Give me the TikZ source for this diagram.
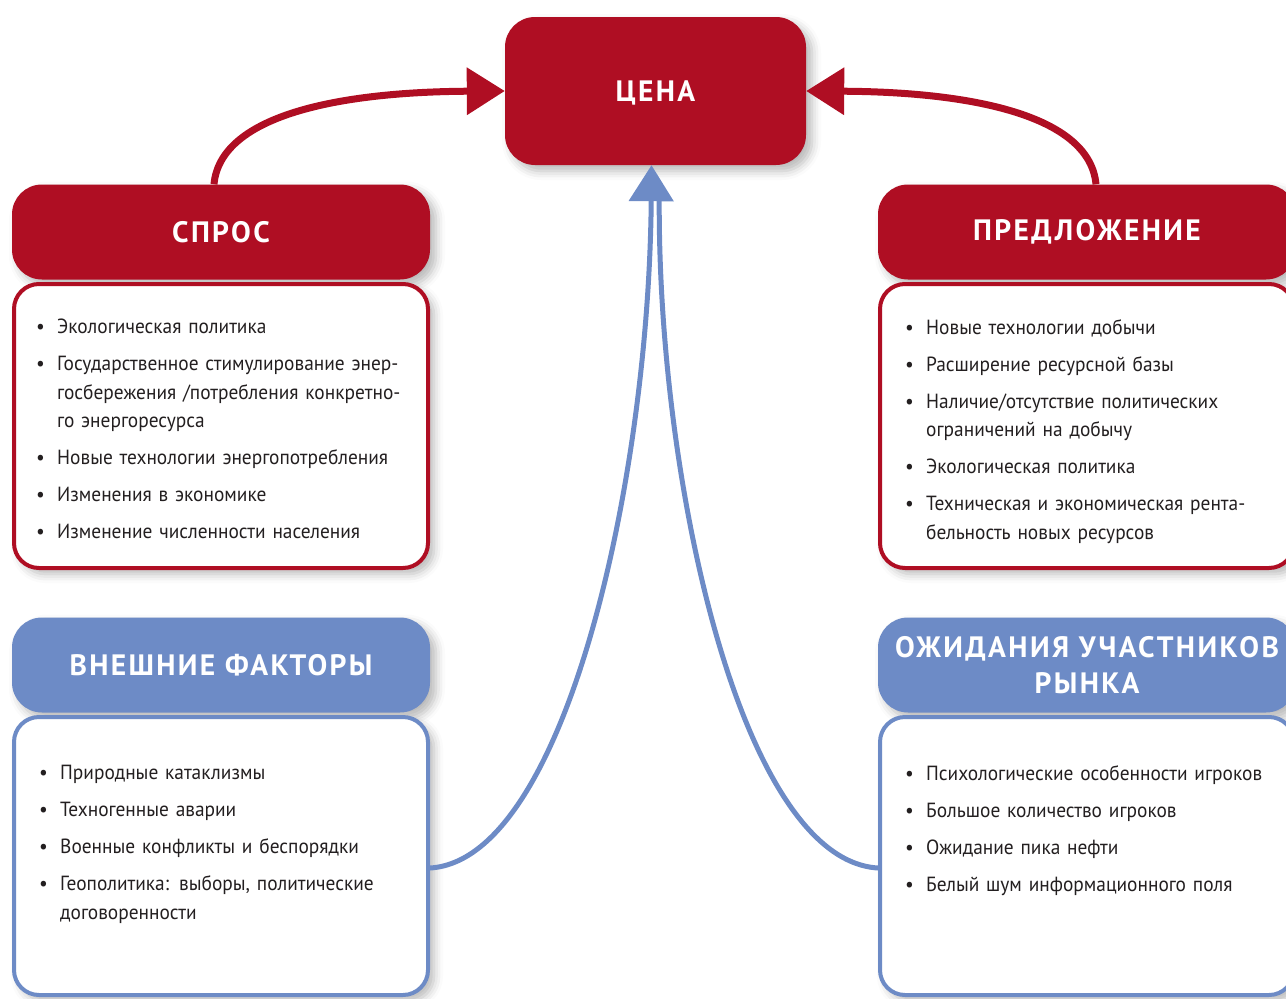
\documentclass[tikz,border=0pt]{standalone}
\usepackage{fontspec}
\setmainfont{PT Sans}[FakeStretch=0.945, WordSpace=0.8]
\newfontfamily\headfont{PT Sans}[LetterSpace=8]
\usetikzlibrary{arrows.meta, positioning, calc, shadows.blur}

\definecolor{cred}{HTML}{AF0E23}
\definecolor{cblue}{HTML}{6D8BC6}
\definecolor{ctext}{HTML}{231F20}

% пункт списка с маркером
\newcommand{\itm}[1]{\hangindent=21pt\hangafter=1\noindent\makebox[21pt][l]{•}#1\par\vspace{8.5pt}}

\begin{document}
\begin{tikzpicture}[x=1pt, y=-1pt,
    shade/.style={blur shadow={shadow xshift=6pt, shadow yshift=-6pt, shadow blur radius=9pt, shadow opacity=28}},
    head/.style={shade, rounded corners=30pt, minimum width=418pt, minimum height=95pt, inner sep=0pt, text=white, align=center, font=\headfont\bfseries\fontsize{29.5}{36}\selectfont},
    redhead/.style={head, fill=cred},
    bluehead/.style={head, fill=cblue},
    listbox/.style={shade, fill=white, line width=4pt, rounded corners=25pt, minimum width=414pt},
    items/.style={anchor=north west, inner sep=0pt, text width=380pt, align=left, text=ctext, font=\fontsize{20.5}{28.5}\selectfont},
    redarrow/.style={cred, line width=7pt, -{Triangle[length=38pt, width=46pt]}},
    bluearrow/.style={cblue, line width=5pt}
]
\useasboundingbox (0,0) rectangle (1286,999);

% цена и заголовки
\node[redhead, minimum width=301pt, minimum height=148pt, text depth=0pt] (price) at (655.5,91) {ЦЕНА};
\node[redhead] (demand)   at (221,232)  {СПРОС};
\node[redhead] (supply)   at (1087,232) {ПРЕДЛОЖЕНИЕ};
\node[bluehead] (external) at (221,665)  {ВНЕШНИЕ ФАКТОРЫ};
\node[bluehead] (expect)   at (1087,665) {ОЖИДАНИЯ УЧАСТНИКОВ\\РЫНКА};

% рамки списков
\node[listbox, draw=cred, minimum height=284pt]  (demandlist)   at (221,426)  {};
\node[listbox, draw=cred, minimum height=284pt]  (supplylist)   at (1087,426) {};
\node[listbox, draw=cblue, minimum height=278pt] (externallist) at (221,856)  {};
\node[listbox, draw=cblue, minimum height=278pt] (expectlist)   at (1087,856) {};

% списки
\node[items] (demandtxt) at (36,319) {%
\itm{Экологическая политика}
\itm{Государственное стимулирование энер-\newline госбережения /потребления конкретно-\newline го энергоресурса}
\itm{Новые технологии энергопотребления}
\itm{Изменения в экономике}
\itm{Изменение численности населения}};
\node[items] (supplytxt) at (905,319) {%
\itm{Новые технологии добычи}
\itm{Расширение ресурсной базы}
\itm{Наличие/отсутствие политических\newline ограничений на добычу}
\itm{Экологическая политика}
\itm{Техническая и экономическая рента-\newline бельность новых ресурсов}};
\node[items] (externaltxt) at (39,765) {%
\itm{Природные катаклизмы}
\itm{Техногенные аварии}
\itm{Военные конфликты и беспорядки}
\itm{Геополитика: выборы, политические\newline договоренности}};
\node[items] (expecttxt) at (905,765) {%
\itm{Психологические особенности игроков}
\itm{Большое количество игроков}
\itm{Ожидание пика нефти}
\itm{Белый шум информационного поля}};

% стрелки к цене
\draw[redarrow] ([xshift=-7pt]demand.north) .. controls (220,118) and (330,92) .. (price.west);
\draw[redarrow] ([xshift=9pt]supply.north) .. controls (1090,118) and (980,92) .. (price.east);
\draw[bluearrow, shorten >=30pt] ([yshift=-12pt]expectlist.west) .. controls (741,860) and (657,480) .. ([xshift=4pt]price.south);
\draw[bluearrow, -{Triangle[length=36pt, width=44pt]}] ([yshift=-12pt]externallist.east) .. controls (565,860) and (649,480) .. ([xshift=-4pt]price.south);

\end{tikzpicture}
\end{document}
